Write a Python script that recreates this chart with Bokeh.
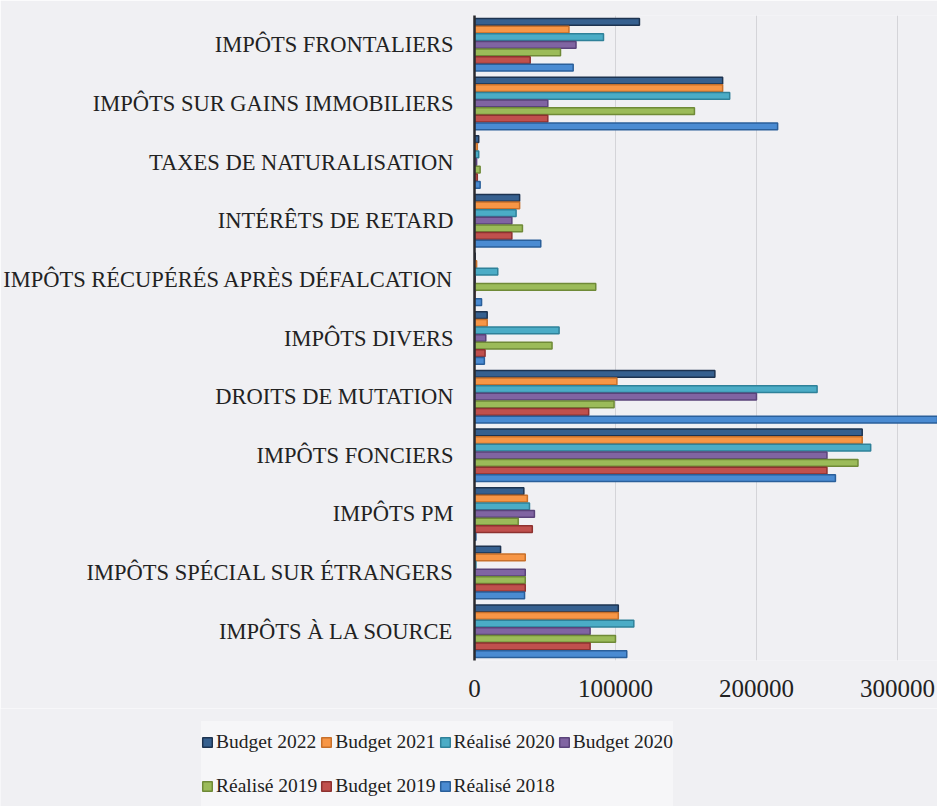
from bokeh.plotting import figure
from bokeh.models import FactorRange, Legend, LegendItem, FixedTicker
from bokeh.layouts import column
from bokeh.transform import dodge
from bokeh.embed import file_html
from bokeh.resources import INLINE

categories = ["IMPÔTS FRONTALIERS", "IMPÔTS SUR GAINS IMMOBILIERS", "TAXES DE NATURALISATION",
              "INTÉRÊTS DE RETARD", "IMPÔTS RÉCUPÉRÉS APRÈS DÉFALCATION", "IMPÔTS DIVERS",
              "DROITS DE MUTATION", "IMPÔTS FONCIERS", "IMPÔTS PM",
              "IMPÔTS SPÉCIAL SUR ÉTRANGERS", "IMPÔTS À LA SOURCE"]

series_names = ["Budget 2022", "Budget 2021", "Réalisé 2020", "Budget 2020",
                "Réalisé 2019", "Budget 2019", "Réalisé 2018"]

budget_2022 = [117000, 176000, 3000, 32000, 500, 9000, 170500, 275000, 35000, 18500, 102000]
budget_2021 = [67000, 176000, 2000, 32000, 1500, 9000, 101000, 275000, 37500, 36000, 102000]
realise_2020 = [91500, 181000, 3000, 29500, 16500, 60000, 243000, 281000, 39000, 1000, 113000]
budget_2020 = [72000, 52000, 1500, 26500, 500, 8000, 200000, 250000, 42500, 36000, 82000]
realise_2019 = [61000, 156000, 4000, 34000, 86000, 55000, 99000, 272000, 31000, 36000, 100000]
budget_2019 = [39500, 52000, 2000, 26500, 300, 7500, 81000, 250000, 41000, 36000, 82000]
realise_2018 = [70000, 215000, 4000, 47000, 5000, 7000, 350000, 256000, 1000, 35500, 108000]

x_ticks = [0, 100000, 200000, 300000]

series_values = [budget_2022, budget_2021, realise_2020, budget_2020,
                 realise_2019, budget_2019, realise_2018]
fills = ["#36608f", "#f79646", "#4bacc6", "#8064a2", "#9bbb59", "#c0504d", "#4a8bd2"]
lines = ["#1d3350", "#c8702a", "#2f8199", "#5a437a", "#6f8a37", "#8e3230", "#2a5f9a"]

BG = "#f0f0f3"
FONT = "Liberation Serif"

p = figure(width=937, height=708, output_backend="svg", toolbar_location=None,
           y_range=FactorRange(factors=categories[::-1], range_padding=0),
           x_range=(0, 328400),
           background_fill_color=BG, border_fill_color=BG,
           min_border_top=15, min_border_right=0, min_border_left=10,
           min_border_bottom=48)
p.outline_line_color = None
p.frame_align = False

for i, vals in enumerate(series_values):
    src = dict(cat=categories, val=vals)
    p.hbar(y=dodge("cat", (3 - i) * 0.13, range=p.y_range), right="val", left=0,
           height=0.115, source=src, fill_color=fills[i], line_color=lines[i],
           line_width=1.5)

p.ygrid.grid_line_color = None
p.xgrid.grid_line_color = "#d4d4d8"
p.xgrid.grid_line_width = 1
p.xgrid.ticker = FixedTicker(ticks=x_ticks)

p.xaxis.ticker = FixedTicker(ticks=x_ticks)
p.xaxis.axis_line_color = None
p.xaxis.major_tick_line_color = None
p.xaxis.minor_tick_line_color = None
p.xaxis.major_label_text_font = FONT
p.xaxis.major_label_text_font_size = "25px"
p.xaxis.major_label_text_color = "#222222"
p.xaxis.major_label_standoff = 13
p.xaxis.formatter.use_scientific = False

p.yaxis.axis_line_color = "#2a2a2e"
p.yaxis.axis_line_width = 2.5
p.yaxis.major_tick_line_color = None
p.yaxis.minor_tick_line_color = None
p.yaxis.major_label_text_font = FONT
p.yaxis.major_label_text_font_size = "22.5px"
p.yaxis.major_label_text_color = "#222222"
p.yaxis.major_label_standoff = 15

# legend strip below the chart
q = figure(width=937, height=98, output_backend="svg", toolbar_location=None,
           x_range=(0, 1), y_range=(0, 1),
           background_fill_color=BG, border_fill_color=BG,
           min_border=0)
q.outline_line_color = None
q.frame_align = False
q.axis.visible = False
q.grid.grid_line_color = None

items = []
for i, name in enumerate(series_names):
    # placeholder bar kept outside the visible range; only its style feeds the legend
    r = q.hbar(y=[-5], right=[0], left=[0], height=0.1, fill_color=fills[i],
               line_color=lines[i], line_width=1.5)
    items.append(LegendItem(label=name, renderers=[r]))

legend = Legend(items=items, orientation="horizontal", ncols=4,
                location=(201, 0), label_text_font=FONT, label_text_font_size="19.5px",
                label_text_color="#222222", glyph_width=12, glyph_height=12,
                label_standoff=3, spacing=3, label_height=41,
                background_fill_color="#f6f6f8", border_line_color=None,
                padding=0, margin=0)
q.add_layout(legend)

open("out.html", "w").write(file_html(column(p, q, spacing=0), INLINE))
